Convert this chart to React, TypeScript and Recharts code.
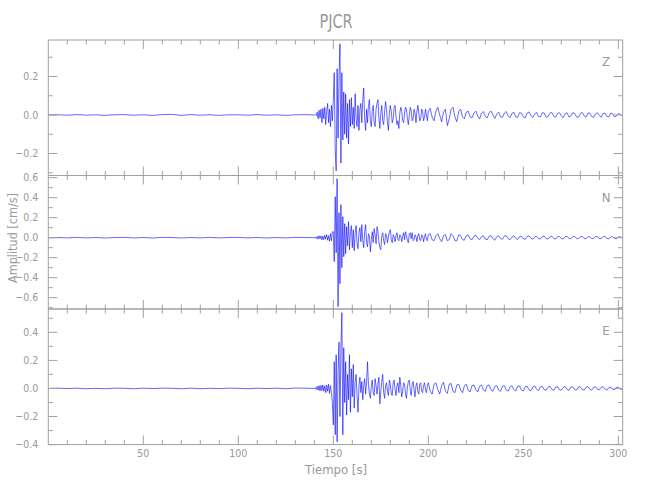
import { LineChart, Line, XAxis, YAxis } from "recharts";

// tiempos: pre-evento cada 5 s (0-135), evento cada 0.5 s (140-199.5), coda cada 1 s (200-302)
const zPre = [0, 0.001, -0.001, 0.002, -0.001, 0.001, -0.002, 0.001, 0.002, -0.001, 0.001, -0.002, 0.002, 0.003, -0.002, 0.002, -0.001, 0.001, -0.002, 0.001, 0.001, -0.001, 0.002, -0.001, 0.001, -0.002, 0.001, 0.002];
const zEvent = [
  0, 0.002, -0.003, 0.015, -0.02, 0.025, -0.015, 0.03, -0.04, 0.035,
  -0.02, 0.04, -0.05, 0.02, 0.06, -0.04, 0.03, -0.06, 0.05, -0.03,
  0.08, 0.22, -0.18, -0.29, 0.24, -0.12, 0.2, 0.37, -0.25, 0.22,
  -0.13, 0.12, -0.1, 0.11, -0.12, 0.06, -0.15, 0.08, -0.06, 0.09,
  -0.05, 0.04, -0.07, 0.11, -0.02, -0.06, 0.05, -0.08, 0.03, 0.06,
  -0.04, 0.08, 0.14, -0.02, -0.08, 0.03, -0.04, 0.05, 0.08, -0.03,
  -0.06, 0.02, 0.05, -0.04, -0.06, 0.03, 0.06, 0.08, -0.02, -0.07,
  0.01, 0.05, -0.03, -0.05, 0.02, 0.07, 0.03, -0.04, -0.08, 0.01,
  0.05, 0.02, -0.04, -0.02, 0.04, 0.05, -0.01, -0.05, -0.03, -0.07,
  0.01, 0.04, 0.02, -0.03, -0.04, 0.01, 0.04, 0.03, -0.02, -0.05,
  0.0, 0.04, 0.02, -0.03, -0.02, 0.03, 0.01, -0.04, 0.02, 0.05,
  0.01, -0.03, -0.02, 0.03, 0.02, -0.03, -0.01, 0.03, 0.0, -0.03,
];
const zCoda = [
  0.02, 0.035, -0.01, -0.03, 0.02, 0.04, 0.0, -0.035, 0.015, 0.03,
  -0.055, -0.02, 0.03, 0.04, -0.01, -0.035, 0.02, 0.03, -0.01, -0.02,
  0.015, 0.02, -0.01, -0.015, 0.01, 0.02, -0.005, -0.02, 0.01, 0.018,
  -0.008, -0.015, 0.012, 0.02, 0.0, -0.018, 0.005, 0.015, -0.01, -0.012,
  0.01, 0.018, -0.005, -0.015, 0.008, 0.015, -0.01, -0.012, 0.012, 0.01,
  -0.01, -0.014, 0.01, 0.016, -0.004, -0.013, 0.006, 0.014, -0.008, -0.01,
  0.012, 0.01, -0.012, -0.008, 0.01, 0.013, -0.006, -0.012, 0.008, 0.012,
  -0.004, -0.014, 0.006, 0.012, -0.01, -0.006, 0.012, 0.008, -0.01, -0.012,
  0.006, 0.014, -0.004, -0.012, 0.01, 0.01, -0.008, -0.012, 0.006, 0.012,
  -0.002, -0.012, 0.008, 0.01, -0.008, -0.01, 0.01, 0.006, -0.01, -0.006,
  0.008, 0.004, -0.004,
];

const nPre = [0, 0.002, -0.002, 0.003, -0.002, 0.002, -0.003, 0.002, 0.003, -0.002, 0.002, -0.003, 0.003, 0.002, -0.003, 0.002, -0.002, 0.003, -0.002, 0.002, 0.003, -0.002, 0.002, -0.003, 0.002, -0.002, 0.003, 0.002];
const nEvent = [
  0.0, 0.005, -0.008, 0.012, -0.015, 0.02, -0.01, 0.018, -0.022, 0.015,
  -0.02, 0.025, -0.015, 0.03, -0.025, 0.02, -0.035, 0.04, -0.03, 0.06,
  0.06, -0.24, 0.41, -0.15, 0.59, -0.69, 0.25, -0.46, 0.33, -0.3,
  0.21, -0.19, 0.14, -0.16, 0.11, -0.08, 0.16, -0.12, 0.06, 0.12,
  -0.1, 0.08, -0.13, 0.04, 0.12, -0.06, -0.11, 0.05, 0.1, -0.04,
  0.13, -0.03, -0.1, 0.06, 0.13, -0.05, -0.09, 0.04, 0.02, -0.14,
  -0.02, 0.06, -0.05, 0.09, 0.03, -0.06, 0.11, 0.06, -0.04, -0.1,
  -0.12, 0.02, 0.05, -0.03, -0.07, 0.04, 0.02, -0.05, 0.01, 0.06,
  0.08, -0.02, -0.05, 0.03, 0.01, -0.04, 0.02, 0.05, -0.02, -0.03,
  0.03, 0.02, -0.04, 0.01, 0.05, -0.02, 0.06, 0.02, -0.03, -0.05,
  0.04, 0.05, -0.01, 0.05, -0.03, -0.02, 0.03, 0.01, -0.04, 0.02,
  0.04, -0.02, -0.03, 0.03, 0.02, -0.04, 0.01, 0.04, -0.02, -0.03,
];
const nCoda = [
  0.03, 0.04, -0.02, -0.03, 0.02, 0.04, -0.01, -0.04, 0.02, 0.03,
  -0.03, -0.02, 0.04, 0.02, -0.03, -0.03, 0.03, 0.02, -0.02, -0.025,
  0.02, 0.025, -0.01, -0.02, 0.015, 0.025, -0.005, -0.02, 0.01, 0.02,
  -0.015, -0.02, 0.015, 0.02, -0.01, -0.025, 0.01, 0.02, -0.01, -0.015,
  0.015, 0.02, -0.01, -0.02, 0.005, 0.02, -0.005, -0.018, 0.012, 0.015,
  -0.012, -0.015, 0.012, 0.018, -0.006, -0.015, 0.008, 0.014, -0.01, -0.012,
  0.01, 0.015, -0.01, -0.012, 0.008, 0.014, -0.006, -0.014, 0.01, 0.012,
  -0.008, -0.012, 0.01, 0.012, -0.006, -0.01, 0.01, 0.012, -0.008, -0.01,
  0.008, 0.012, -0.006, -0.012, 0.01, 0.008, -0.01, -0.008, 0.012, 0.01,
  -0.008, -0.01, 0.01, 0.012, -0.006, -0.012, 0.008, 0.01, -0.008, -0.01,
  0.006, 0.01, -0.004,
];

const ePre = [0, 0.002, -0.001, 0.002, -0.002, 0.001, -0.002, 0.002, 0.001, -0.002, 0.002, -0.001, 0.002, 0.001, -0.002, 0.002, -0.002, 0.001, -0.001, 0.002, 0.001, -0.002, 0.002, -0.001, 0.002, -0.002, 0.003, 0.002];
const eEvent = [
  0.0, 0.006, -0.008, 0.015, -0.012, 0.02, -0.018, 0.022, -0.015, 0.025,
  -0.02, 0.018, -0.03, 0.025, -0.02, 0.03, -0.035, 0.02, -0.03, -0.1,
  -0.26, 0.19, -0.33, 0.24, -0.38, 0.12, 0.33, -0.2, 0.28, 0.54,
  -0.33, 0.29, -0.1, 0.19, -0.19, 0.1, -0.08, 0.24, -0.17, 0.14,
  -0.06, 0.17, -0.14, 0.05, 0.1, -0.05, -0.17, 0.02, 0.08, -0.03,
  0.05, -0.08, 0.02, 0.07, -0.04, 0.04, 0.19, 0.03, -0.04, -0.07,
  0.02, 0.06, -0.03, -0.05, 0.07, 0.02, -0.04, 0.03, 0.08, -0.11,
  -0.02, 0.05, 0.1, -0.03, -0.07, 0.02, 0.04, -0.02, -0.05, 0.06,
  0.03, -0.04, -0.05, 0.04, 0.06, -0.01, -0.05, 0.02, 0.04, -0.03,
  0.08, 0.02, -0.06, -0.02, 0.04, 0.03, -0.04, -0.07, 0.01, 0.05,
  0.06, -0.02, -0.05, 0.03, 0.05, -0.01, -0.06, 0.02, 0.04, -0.02,
  -0.04, 0.03, 0.04, -0.02, -0.03, 0.02, 0.04, -0.01, -0.03, 0.02,
];
const eCoda = [
  0.04, -0.02, -0.04, 0.03, 0.04, -0.01, -0.04, 0.02, 0.045, -0.02,
  -0.035, 0.03, 0.035, -0.02, -0.03, 0.025, 0.03, -0.01, -0.03, 0.02,
  0.03, -0.015, -0.025, 0.02, 0.025, -0.01, -0.025, 0.015, 0.025, -0.01,
  -0.02, 0.02, 0.025, -0.01, -0.02, 0.015, 0.02, -0.012, -0.02, 0.015,
  0.02, -0.01, -0.02, 0.012, 0.02, -0.008, -0.018, 0.015, 0.018, -0.01,
  -0.018, 0.012, 0.016, -0.01, -0.016, 0.01, 0.018, -0.006, -0.015, 0.012,
  0.015, -0.008, -0.014, 0.01, 0.016, -0.006, -0.014, 0.01, 0.012, -0.01,
  -0.012, 0.008, 0.014, -0.006, -0.014, 0.01, 0.012, -0.008, -0.012, 0.01,
  0.012, -0.006, -0.012, 0.008, 0.014, -0.004, -0.012, 0.008, 0.012, -0.006,
  -0.01, 0.008, 0.012, -0.004, -0.012, 0.006, 0.01, -0.006, -0.01, 0.008,
  0.01, -0.004, -0.008,
];

const timeTicks = [10, 20, 30, 40, 50, 60, 70, 80, 90, 100, 110, 120, 130, 140, 150, 160, 170, 180, 190, 200, 210, 220, 230, 240, 250, 260, 270, 280, 290, 300];

function buildSeries(pre: number[], event: number[], coda: number[]) {
  return [
    ...pre.map((v, i) => ({ t: i * 5, v })),
    ...event.map((v, i) => ({ t: 140 + i * 0.5, v })),
    ...coda.map((v, i) => ({ t: 200 + i, v })),
  ];
}

const panels = [
  { name: "Z", data: buildSeries(zPre, zEvent, zCoda), domain: [-0.3143, 0.3896], ticks: [-0.3, -0.2, -0.1, 0, 0.1, 0.2, 0.3], top: 40, bottom: 175.5 },
  { name: "N", data: buildSeries(nPre, nEvent, nCoda), domain: [-0.713, 0.622], ticks: [-0.7, -0.6, -0.5, -0.4, -0.3, -0.2, -0.1, 0, 0.1, 0.2, 0.3, 0.4, 0.5, 0.6], top: 175.5, bottom: 309 },
  { name: "E", data: buildSeries(ePre, eEvent, eCoda), domain: [-0.4, 0.566], ticks: [-0.4, -0.3, -0.2, -0.1, 0, 0.1, 0.2, 0.3, 0.4, 0.5], top: 309, bottom: 444.6 },
];

const W = 650;
const H = 500;
const LEFT = 48.3;
const RIGHT = 622.7;
const GREY = "#a0a0a0";
const TEXT = "#999999";
const FONT = "'Liberation Sans Narrow', 'DejaVu Sans Condensed', sans-serif";

const isMajorY = (v: number) => Math.round(v * 10) % 2 === 0;
const fmt = (v: number) => (v < 0 ? "\u2212" : "") + Math.abs(v).toFixed(1);

function LeftTick(props: any) {
  const { x, y, payload } = props;
  const major = isMajorY(payload.value);
  return (
    <g>
      <line x1={x} y1={y} x2={x + (major ? 9 : 4.5)} y2={y} stroke={GREY} strokeWidth={1} />
      {major && (
        <text x={x - 10} y={y + 3.6} textAnchor="end" fontSize={10.5} fill={TEXT} fontFamily={FONT}>
          {fmt(payload.value)}
        </text>
      )}
    </g>
  );
}

function RightTick(props: any) {
  const { x, y, payload } = props;
  const major = isMajorY(payload.value);
  return <line x1={x} y1={y} x2={x - (major ? 9 : 4.5)} y2={y} stroke={GREY} strokeWidth={1} />;
}

function TopTick(props: any) {
  const { x, y, payload } = props;
  const major = payload.value % 50 === 0;
  return <line x1={x} y1={y} x2={x} y2={y + (major ? 9 : 4.5)} stroke={GREY} strokeWidth={1} />;
}

function BottomTick(props: any) {
  const { x, y, payload, showLabel } = props;
  const major = payload.value % 50 === 0;
  return (
    <g>
      <line x1={x} y1={y} x2={x} y2={y - (major ? 9 : 4.5)} stroke={GREY} strokeWidth={1} />
      {showLabel && major && (
        <text x={x} y={y + 12.5} textAnchor="middle" fontSize={10.5} fill={TEXT} fontFamily={FONT}>
          {payload.value}
        </text>
      )}
    </g>
  );
}

function Panel({ p, last }: { p: (typeof panels)[number]; last: boolean }) {
  return (
    <div style={{ position: "absolute", left: 0, top: 0 }}>
      <LineChart
        width={W}
        height={H}
        data={p.data}
        margin={{ top: p.top - 1, bottom: H - p.bottom - 1, left: LEFT - 1, right: W - RIGHT - 1 }}
      >
        <XAxis xAxisId="b" dataKey="t" type="number" domain={[0, 302.3]} allowDataOverflow ticks={timeTicks} interval={0}
          orientation="bottom" height={1} tickSize={0} tickMargin={0} axisLine={{ stroke: GREY }} tickLine={false}
          tick={(tp: any) => <BottomTick {...tp} showLabel={last} />} />
        <XAxis xAxisId="t" dataKey="t" type="number" domain={[0, 302.3]} allowDataOverflow ticks={timeTicks} interval={0}
          orientation="top" height={1} tickSize={0} tickMargin={0} axisLine={{ stroke: GREY }} tickLine={false}
          tick={TopTick} />
        <YAxis yAxisId="l" type="number" domain={p.domain} allowDataOverflow ticks={p.ticks} interval={0}
          orientation="left" width={1} tickSize={0} tickMargin={0} axisLine={{ stroke: GREY }} tickLine={false}
          tick={LeftTick} />
        <YAxis yAxisId="r" type="number" domain={p.domain} allowDataOverflow ticks={p.ticks} interval={0}
          orientation="right" width={1} tickSize={0} tickMargin={0} axisLine={{ stroke: GREY }} tickLine={false}
          tick={RightTick} />
        <Line xAxisId="b" yAxisId="l" type="linear" dataKey="v" stroke="#0000ff" strokeWidth={0.6}
          dot={false} isAnimationActive={false} />
      </LineChart>
    </div>
  );
}

export default function App() {
  return (
    <div style={{ position: "absolute", left: 0, top: 0, width: W, height: H, background: "#fff", fontFamily: FONT }}>
      {panels.map((p, i) => (
        <Panel key={p.name} p={p} last={i === panels.length - 1} />
      ))}
      <svg width={W} height={H} style={{ position: "absolute", left: 0, top: 0, pointerEvents: "none" }}>
        <text x={336} y={28} textAnchor="middle" fontSize={20} fill={TEXT} fontFamily={FONT} textLength={33} lengthAdjust="spacingAndGlyphs">
          PJCR
        </text>
        {panels.map((p) => (
          <text key={p.name} x={606} y={p.top + 26} textAnchor="middle" fontSize={13} fill={TEXT} fontFamily={FONT}>
            {p.name}
          </text>
        ))}
        <text x={336} y={474} textAnchor="middle" fontSize={13} fill={TEXT} fontFamily={FONT}>
          Tiempo  [s]
        </text>
        <text x={17} y={238} textAnchor="middle" fontSize={12.5} fill={TEXT} fontFamily={FONT} transform="rotate(-90 17 238)">
          Amplitud  [cm/s]
        </text>
      </svg>
    </div>
  );
}
